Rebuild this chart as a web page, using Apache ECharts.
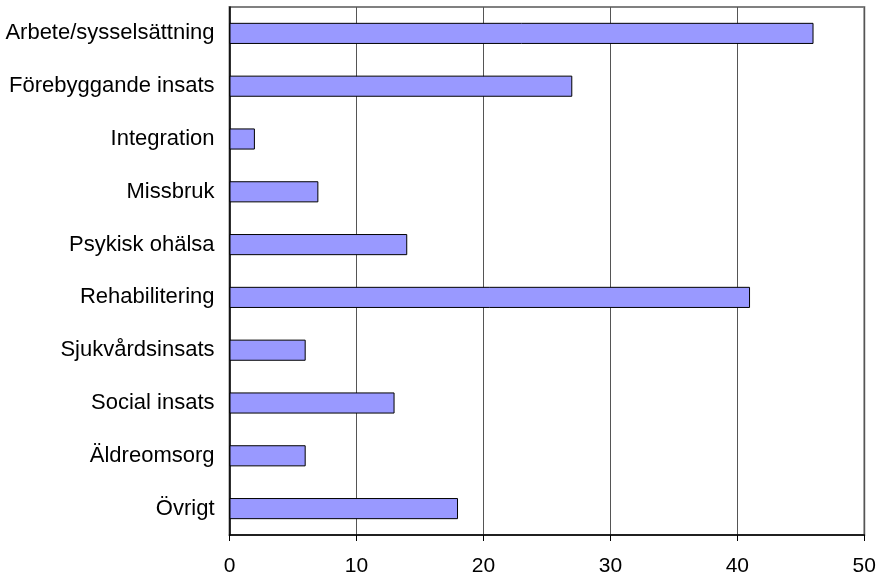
<!DOCTYPE html>
<html>
<head>
<meta charset="utf-8">
<script src="https://cdn.jsdelivr.net/npm/echarts@6/dist/echarts.min.js"></script>
<style>
  html, body { margin: 0; padding: 0; background: #fff; }
  #chart { width: 879px; height: 577px; }
</style>
</head>
<body>
<div id="chart"></div>
<script>
// Categories, top to bottom as shown
const categories = [
  'Arbete/sysselsättning',
  'Förebyggande insats',
  'Integration',
  'Missbruk',
  'Psykisk ohälsa',
  'Rehabilitering',
  'Sjukvårdsinsats',
  'Social insats',
  'Äldreomsorg',
  'Övrigt'
];
const values = [46, 27, 2, 7, 14, 41, 6, 13, 6, 18];
const xTicks = [0, 10, 20, 30, 40, 50];

const FONT = 'Liberation Sans, Arial, sans-serif';

const chart = echarts.init(document.getElementById('chart'), null, { renderer: 'canvas' });

chart.setOption({
  animation: false,
  backgroundColor: '#ffffff',
  grid: {
    left: 229.5,
    right: 879 - 864.3,
    top: 7,
    bottom: 577 - 536,
    show: true,
    borderColor: '#808080',
    borderWidth: 2,
    backgroundColor: 'transparent'
  },
  xAxis: {
    type: 'value',
    min: xTicks[0],
    max: xTicks[xTicks.length - 1],
    interval: 10,
    axisLine: { show: true, lineStyle: { color: '#000', width: 1.5 } },
    axisTick: { show: true, length: 6, lineStyle: { color: '#000' } },
    splitLine: { show: true, lineStyle: { color: '#555', width: 1 } },
    axisLabel: {
      color: '#000',
      fontFamily: FONT,
      fontSize: 21,
      margin: 21
    }
  },
  yAxis: {
    type: 'category',
    data: categories,
    inverse: true,
    axisLine: { show: true, lineStyle: { color: '#000', width: 1.5 } },
    axisTick: { show: false },
    splitLine: { show: false },
    axisLabel: {
      color: '#000',
      fontFamily: FONT,
      fontSize: 22,
      margin: 15
    }
  },
  series: [{
    type: 'bar',
    data: values,
    barWidth: '40%',
    itemStyle: {
      color: '#9999ff',
      borderColor: '#000000',
      borderWidth: 1
    }
  }]
});
</script>
</body>
</html>
